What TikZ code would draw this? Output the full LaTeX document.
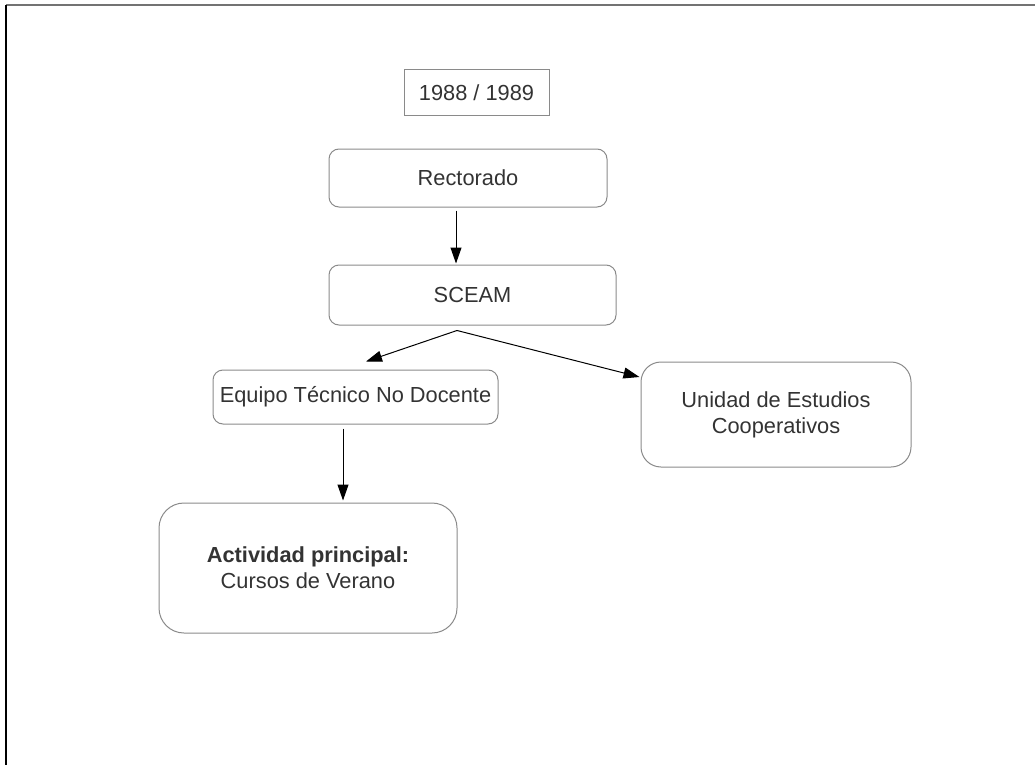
\documentclass[tikz,border=0pt]{standalone}
\usepackage{fontspec}
\setmainfont{Liberation Sans}
\usetikzlibrary{arrows.meta,calc}
\definecolor{txt}{HTML}{333333}
\definecolor{bord}{HTML}{8A8A8A}
\begin{document}
\begin{tikzpicture}[x=1pt,y=-1pt,
  box/.style={draw=bord,line width=1pt,rounded corners=10pt,text=txt,font=\fontsize{21.8}{26}\selectfont,align=center,inner sep=0pt},
  conn/.style={line width=1pt,-{Triangle[length=16pt,width=11pt]}}]
\useasboundingbox (0,0) rectangle (1035,765);
\draw[line width=2pt,black!55] (6,5) -- (1035,5);
\draw[line width=2pt,black] (6,5) -- (6,765);
\node[box,rounded corners=0pt,minimum width=145pt,minimum height=46pt] (year) at (476.5,93) {1988 / 1989};
\node[box,minimum width=278pt,minimum height=58pt] (rect) at (468,178) {Rectorado};
\node[box,minimum width=287pt,minimum height=60pt] (sceam) at (472.5,295) {SCEAM};
\node[box,minimum width=285pt,minimum height=54pt] (equipo) at (355.5,397) {Equipo Técnico No Docente};
\node[box,rounded corners=20pt,minimum width=270pt,minimum height=105pt] (unidad) at (776,414.5) {Unidad de Estudios\\Cooperativos};
\node[box,rounded corners=25pt,minimum width=298pt,minimum height=130pt] (activ) at (308,568) {\textbf{Actividad principal:}\\Cursos de Verano};
\coordinate (s0) at ($(sceam.south)+(-15.5,5)$);
\draw[conn] ($(rect.south)+(-12,3)$) -- ($(sceam.north)+(-16.5,-1)$);
\draw[conn] (s0) -- ($(equipo.north)+(10.5,-8)$);
\draw[conn] (s0) -- ($(unidad.west)+(-1,-37.5)$);
\draw[conn] ($(equipo.south)+(-12.5,4)$) -- ($(activ.north)+(35,-2)$);
\end{tikzpicture}
\end{document}
